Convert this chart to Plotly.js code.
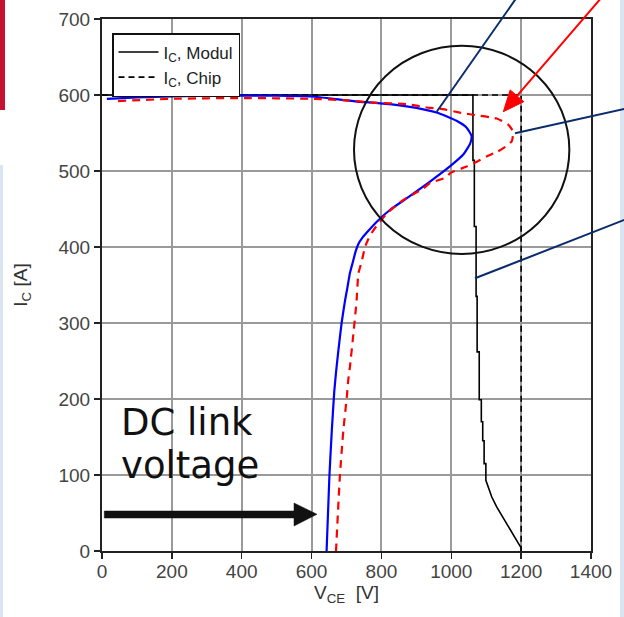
<!DOCTYPE html>
<html>
<head>
<meta charset="utf-8">
<script src="https://cdn.plot.ly/plotly-3.0.1.min.js"></script>
<style>
  html, body { margin: 0; padding: 0; background: #ffffff; }
  #chart { width: 624px; height: 617px; }
</style>
</head>
<body>
<div id="chart"></div>
<script>
// ---- Data ----
// I_C, Modul (black solid, datasheet limit)
const modulV = [0,1062,1062,1066,1066,1071,1071,1074,1074,1080,1080,1086,1086,1090,1090,1094,1094,1099,1099,1106,1116,1130,1144,1163,1182,1200,1200];
const modulI = [600,600,514,514,427,427,335,335,262,262,199,199,170,170,145,145,115,115,93,85,71,58,47,32,19,4,0];
// I_C, Chip (black dashed, datasheet limit)
const chipV = [0,1200,1200];
const chipI = [600,600,0];
// Switching trajectory, module (blue solid)
const trajModulV = [14,100,300,500,600,681,739,776,872,958,1015,1044,1058,1054,1035,996,939,872,825,786,758,745,734,726,718,710,702,696,686,677,670,665,658,651,643];
const trajModulI = [595,597,599,599,598,594,591,590,585,577,566,557,546,536,522,506,486,464,449,433,419,412,404,394,380,366,345,330,300,265,235,210,159,98,0];
// Switching trajectory, chip (red dashed)
const trajChipV = [46,200,400,600,700,776,872,939,968,1034,1063,1130,1163,1177,1176,1173,1149,1130,1101,1063,1044,996,987,939,920,863,815,777,762,753,743,734,729,720,710,705,701,691,681,670];
const trajChipI = [592,595,596,595,593,590,588,583,582,576,574,569,561,552,545,539,530,525,519,510,506,497,492,484,477,462,444,422,410,400,380,365,330,287,243,225,203,159,98,0];

const xTicks = [0,200,400,600,800,1000,1200,1400];
const yTicks = [0,100,200,300,400,500,600,700];
const legendNames = ['I<sub>C</sub>, Modul', 'I<sub>C</sub>, Chip'];
const xTitle = 'V<sub>CE</sub>  [V]';
const yTitle = 'I<sub>C</sub> [A]';
const noteLines = ['DC link', 'voltage'];

// ---- Layout helpers (pixel -> paper) ----
const PL = 102, PR = 591, PT = 19, PB = 551;
const px = v => (v - PL) / (PR - PL);
const py = v => (PB - v) / (PB - PT);

const FONT = 'Liberation Sans, Arial, sans-serif';

const traces = [
  { x: modulV, y: modulI, mode: 'lines', name: legendNames[0],
    line: { color: '#000000', width: 1.6 } },
  { x: chipV, y: chipI, mode: 'lines', name: legendNames[1],
    line: { color: '#000000', width: 1.6, dash: '6px,4px' } },
  { x: trajModulV, y: trajModulI, mode: 'lines', showlegend: false,
    line: { color: '#0000ff', width: 2.2, shape: 'spline', smoothing: 0.5 } },
  { x: trajChipV, y: trajChipI, mode: 'lines', showlegend: false,
    line: { color: '#ff0000', width: 2.2, dash: '8px,6px', shape: 'spline', smoothing: 0.5 } }
];

// red arrow geometry
const tip = [503.3, 111.7], start = [602, -3];
const dx = tip[0] - start[0], dy = tip[1] - start[1];
const len = Math.hypot(dx, dy);
const ux = dx / len, uy = dy / len;
const HL = 21, HW = 9;
const bx = tip[0] - HL * ux, by = tip[1] - HL * uy;
const nx = -uy, ny = ux;
const c1 = [bx + HW * nx, by + HW * ny], c2 = [bx - HW * nx, by - HW * ny];

const navy = '#0b2c6b';
const shapes = [
  // slide decoration
  { type: 'rect', xref: 'paper', yref: 'paper', x0: px(0), x1: px(5), y0: py(0), y1: py(110),
    fillcolor: '#c41230', line: { width: 0 } },
  { type: 'rect', xref: 'paper', yref: 'paper', x0: px(0), x1: px(3), y0: py(165), y1: py(617),
    fillcolor: '#dbe5f1', line: { width: 0 } },
  { type: 'rect', xref: 'paper', yref: 'paper', x0: px(620), x1: px(624), y0: py(0), y1: py(617),
    fillcolor: '#dbe5f1', line: { width: 0 } },
  // circle
  { type: 'circle', xref: 'x', yref: 'y', x0: 721.5, x1: 1338, y0: 390.8, y1: 664.9,
    line: { color: '#111111', width: 2 } },
  // navy pointer lines
  { type: 'line', xref: 'paper', yref: 'paper', x0: px(436.7), y0: py(111.7), x1: px(517.8), y1: py(-4),
    line: { color: navy, width: 2 } },
  { type: 'line', xref: 'paper', yref: 'paper', x0: px(515), y0: py(133.3), x1: px(630), y1: py(107.7),
    line: { color: navy, width: 2 } },
  { type: 'line', xref: 'paper', yref: 'paper', x0: px(475), y0: py(278.3), x1: px(630), y1: py(217.7),
    line: { color: navy, width: 2 } },
  // red arrow
  { type: 'line', xref: 'paper', yref: 'paper', x0: px(start[0]), y0: py(start[1]), x1: px(bx), y1: py(by),
    line: { color: '#ff0000', width: 2 } },
  { type: 'path', xref: 'paper', yref: 'paper',
    path: `M ${px(tip[0])} ${py(tip[1])} L ${px(c1[0])} ${py(c1[1])} L ${px(c2[0])} ${py(c2[1])} Z`,
    fillcolor: '#ff0000', line: { color: '#ff0000', width: 1 } },
  // black DC-link arrow
  { type: 'path', xref: 'paper', yref: 'paper',
    path: `M ${px(104.3)} ${py(511)} L ${px(294)} ${py(511)} L ${px(294)} ${py(503)} L ${px(317)} ${py(514.3)} L ${px(294)} ${py(526)} L ${px(294)} ${py(518)} L ${px(104.3)} ${py(518)} Z`,
    fillcolor: '#111111', line: { color: '#111111', width: 0.5 } }
];

const annotations = [
  { xref: 'paper', yref: 'paper', x: px(119), y: py(422.5), xanchor: 'left', yanchor: 'middle',
    text: noteLines[0], showarrow: false, font: { family: 'DejaVu Sans', size: 37, color: '#111111' } },
  { xref: 'paper', yref: 'paper', x: px(119), y: py(465), xanchor: 'left', yanchor: 'middle',
    text: noteLines[1], showarrow: false, font: { family: 'DejaVu Sans', size: 37, color: '#111111' } }
];

const axisCommon = {
  showgrid: true, gridcolor: '#9a9a9a', gridwidth: 2,
  showline: true, linecolor: '#222222', linewidth: 2, mirror: true,
  ticks: 'outside', ticklen: 6, tickwidth: 1.5, tickcolor: '#222222',
  zeroline: false, tickfont: { family: FONT, size: 19, color: '#444444' }
};

const layout = {
  width: 624, height: 617,
  margin: { l: PL, r: 624 - PR, t: PT, b: 617 - PB },
  paper_bgcolor: '#ffffff', plot_bgcolor: '#ffffff',
  showlegend: true,
  legend: { x: px(112), y: py(33), xanchor: 'left', yanchor: 'top',
    bgcolor: '#ffffff', bordercolor: '#111111', borderwidth: 1.5, itemwidth: 40,
    font: { family: FONT, size: 17, color: '#222222' }, tracegroupgap: 0 },
  xaxis: Object.assign({}, axisCommon, {
    range: [0, 1400], tickmode: 'array', tickvals: xTicks, ticktext: xTicks.map(String),
    ticklabelstandoff: -4,
    title: { text: xTitle, font: { family: FONT, size: 19, color: '#333333' }, standoff: 0 }
  }),
  yaxis: Object.assign({}, axisCommon, {
    range: [0, 700], tickmode: 'array', tickvals: yTicks, ticktext: yTicks.map(String),
    title: { text: yTitle, font: { family: FONT, size: 19, color: '#333333' }, standoff: 26 }
  }),
  shapes: shapes,
  annotations: annotations
};

Plotly.newPlot('chart', traces, layout, { displayModeBar: false, staticPlot: true });
</script>
</body>
</html>
